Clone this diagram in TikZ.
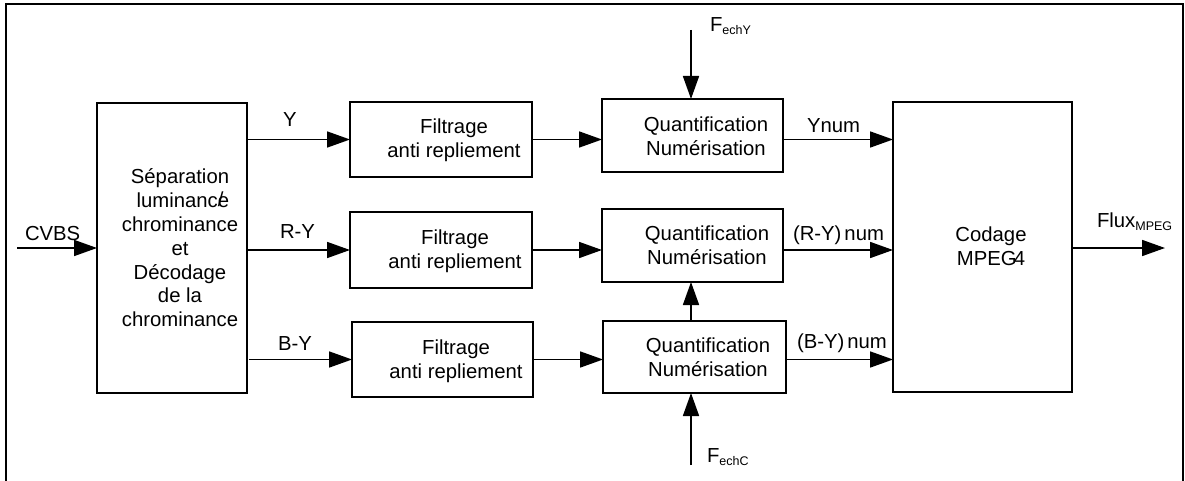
\documentclass[tikz,border=0pt]{standalone}
\usepackage{fontspec}
\setmainfont{Liberation Sans}
\usetikzlibrary{arrows.meta}
\tikzset{
  box/.style={draw, line width=2.6pt, inner sep=0pt, outer sep=0pt},
  arr/.style={line width=1.7pt, -{Triangle[length=23pt,width=16pt]}},
  txt/.style={inner sep=0pt, outer sep=0pt, align=center, font=\fontsize{20.3}{23.8}\selectfont},
  lbl/.style={inner sep=0pt, outer sep=0pt, anchor=base west, font=\fontsize{20.3}{24}\selectfont},
}
\newcommand{\subtxt}[1]{\raisebox{-3pt}{\fontsize{12.5}{13}\selectfont #1}}
\begin{document}
\begin{tikzpicture}[x=1pt,y=-1pt]
\useasboundingbox (0,0) rectangle (1185,481);
% frame
\draw[line width=2.2pt] (6,481) -- (6,4) -- (1183,4) -- (1183,481);

% boxes
\node[box, minimum width=150pt, minimum height=290pt] (sep) at (172,248) {};
\node[box, minimum width=182pt, minimum height=75pt] (f1) at (441,139.5) {};
\node[box, minimum width=182pt, minimum height=76pt] (f2) at (441,250) {};
\node[box, minimum width=181pt, minimum height=75pt] (f3) at (442.5,359.5) {};
\node[box, minimum width=181pt, minimum height=73pt] (q1) at (692.5,135.5) {};
\node[box, minimum width=181pt, minimum height=73pt] (q2) at (692.5,245.5) {};
\node[box, minimum width=183pt, minimum height=72pt] (q3) at (694.5,357) {};
\node[box, minimum width=179pt, minimum height=290pt] (cod) at (982.5,247) {};

% box texts
\node[txt] (sept) at (180,248) {Séparation\\luminanc\rlap{e}\raisebox{1pt}{/}\\chrominance\\et\\Décodage\\de la\\chrominance};
\node[txt] (f1t) at (454,140) {Filtrage\\anti repliement};
\node[txt] (f2t) at (455,251) {Filtrage\\anti repliement};
\node[txt] (f3t) at (456,361) {Filtrage\\anti repliement};
\node[txt] (q1t) at (706,136) {Quantification\\Numérisation};
\node[txt] (q2t) at (707,245.5) {Quantification\\Numérisation};
\node[txt] (q3t) at (708,357) {Quantification\\Numérisation};
\node[txt] (codt) at (991,246) {Codage\\MPEG\kern-3pt 4};

% coordinates for free ends
\coordinate (in) at (17,248);
\coordinate (out) at (1165,248);
\coordinate (fy) at (691,30);
\coordinate (fc) at (691,465);

% connectors
\draw[arr] (in) -- (sep.west);
\draw[arr] (sep.east |- f1.west) -- (f1.west);
\draw[arr] (sep.east |- f2.west) -- (f2.west);
\draw[arr] ([xshift=2pt]sep.east |- f3.west) -- (f3.west);
\draw[arr] (f1.east) -- (f1.east -| q1.west);
\draw[arr] (f2.east) -- (f2.east -| q2.west);
\draw[arr] (f3.east) -- (f3.east -| q3.west);
\draw[arr] (q1.east |- f1.east) -- (f1.east -| cod.west);
\draw[arr] (q2.east |- f2.east) -- (f2.east -| cod.west);
\draw[arr] (q3.east |- f3.east) -- (f3.east -| cod.west);
\draw[arr] (cod.east |- out) -- (out);
\draw[arr] (fy) -- (fy |- q1.north);
\draw[arr] (fc) -- (fc |- q3.south);
\draw[arr] (fy |- q3.north) -- (fy |- q2.south);

% labels
\node[lbl] (ly) at (283,127) {Y};
\node[lbl] (lry) at (280,238) {R-Y};
\node[lbl] (lby) at (278,350) {B-Y};
\node[lbl] (lcvbs) at (25,240) {CVBS};
\node[lbl] (lynum) at (807,133) {Ynum};
\node[lbl] (lrynum) at (793,240) {(R-Y)\kern3pt num};
\node[lbl] (lbynum) at (797,348) {(B-Y)\kern3pt num};
\node[lbl] (lflux) at (1097,227) {Flux\subtxt{MPEG}};
\node[lbl] (lfy) at (710,32) {F\subtxt{echY}};
\node[lbl] (lfc) at (707,462) {F\subtxt{echC}};
\end{tikzpicture}
\end{document}
